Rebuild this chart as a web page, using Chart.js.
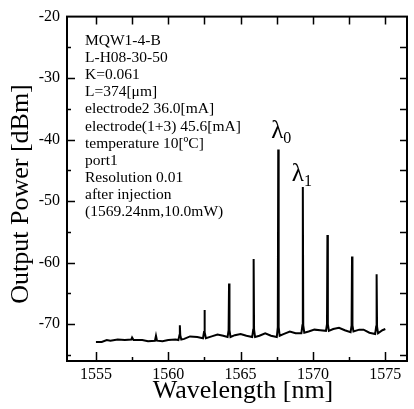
<!DOCTYPE html>
<html>
<head>
<meta charset="utf-8">
<script src="https://cdn.jsdelivr.net/npm/chart.js@4.4.0/dist/chart.umd.min.js"></script>
<style>
html, body { margin: 0; padding: 0; background: #fff; }
</style>
</head>
<body>
<canvas id="spectrum" width="414" height="409"></canvas>
<script>
// spectrum (nm, dBm)
const wavelength = [
  1555.0, 1555.4, 1555.75, 1556.0, 1556.5, 1557.0, 1557.45, 1557.5, 1557.6, 1558.2,
  1558.6, 1559.08, 1559.15, 1559.22, 1559.6, 1560.0, 1560.5, 1560.7, 1560.77, 1560.8,
  1560.83, 1560.9, 1561.1, 1561.5, 1562.0, 1562.4, 1562.47, 1562.5, 1562.53, 1562.6,
  1563.0, 1563.4, 1563.8, 1564.1, 1564.17, 1564.2, 1564.23, 1564.3, 1564.6, 1565.0,
  1565.4, 1565.8, 1565.87, 1565.9, 1565.93, 1566.0, 1566.3, 1566.7, 1567.1, 1567.5,
  1567.57, 1567.6, 1567.63, 1567.7, 1568.0, 1568.4, 1568.8, 1569.2, 1569.27, 1569.3,
  1569.33, 1569.4, 1569.7, 1570.1, 1570.5, 1570.9, 1570.97, 1571.0, 1571.03, 1571.1,
  1571.4, 1571.8, 1572.2, 1572.6, 1572.67, 1572.7, 1572.73, 1572.8, 1573.2, 1573.5,
  1573.9, 1574.3, 1574.37, 1574.4, 1574.43, 1574.5, 1574.8, 1575.0
];
const power = [
  -72.9, -72.9, -72.6, -72.7, -72.5, -72.6, -72.5, -72.2, -72.6, -72.6,
  -72.8, -72.7, -71.9, -72.7, -72.8, -72.6, -72.5, -72.6, -71.8, -70.2,
  -71.8, -72.5, -72.4, -72.0, -72.1, -72.3, -71.3, -67.7, -71.3, -72.3,
  -72.0, -71.7, -71.9, -72.1, -71.0, -63.4, -71.0, -72.1, -71.8, -71.6,
  -71.9, -72.1, -70.9, -59.4, -70.9, -72.1, -71.9, -71.5, -71.9, -72.1,
  -70.5, -41.6, -70.5, -71.9, -71.6, -71.2, -71.5, -71.5, -70.2, -47.7,
  -70.2, -71.4, -71.2, -70.9, -71.0, -71.1, -70.0, -55.5, -70.0, -71.1,
  -70.8, -70.6, -71.0, -71.3, -70.2, -59.0, -70.2, -71.2, -70.9, -70.9,
  -71.4, -71.6, -70.4, -61.9, -70.4, -71.5, -71.0, -70.8
];

const xMajor = [1555, 1560, 1565, 1570, 1575];
const xMinor = [1557.5, 1562.5, 1567.5, 1572.5];
const yMajor = [-20, -30, -40, -50, -60, -70];
const yMinor = [-25, -35, -45, -55, -65, -75];

const infoLines = [
  'MQW1-4-B',
  'L-H08-30-50',
  'K=0.061',
  'L=374[\u03bcm]',
  'electrode2 36.0[mA]',
  'electrode(1+3) 45.6[mA]',
  'temperature 10[\u00baC]',
  'port1',
  'Resolution 0.01',
  'after injection',
  '(1569.24nm,10.0mW)'
];
const modeNames = ['0', '1'];
const modePeaks = [1567.6, 1569.3];
const modeTops = [-41.6, -47.7];

const SERIF = '"Liberation Serif", "DejaVu Serif", serif';

// frame, inward ticks, titles and notes
const decorations = {
  id: 'decorations',
  afterDraw(chart) {
    const ctx = chart.ctx;
    const a = chart.chartArea;
    const xs = chart.scales.x, ys = chart.scales.y;
    ctx.save();
    ctx.strokeStyle = '#000';
    ctx.lineWidth = 2;
    ctx.strokeRect(a.left, a.top, a.right - a.left, a.bottom - a.top);

    ctx.lineWidth = 1.5;
    ctx.beginPath();
    xMajor.concat(xMinor).forEach(v => {
      const px = Math.round(xs.getPixelForValue(v)) + 0.5;
      const len = xMajor.includes(v) ? 9 : 4;
      ctx.moveTo(px, a.bottom); ctx.lineTo(px, a.bottom - len);
      ctx.moveTo(px, a.top); ctx.lineTo(px, a.top + 8);
    });
    yMajor.concat(yMinor).forEach(v => {
      const py = Math.round(ys.getPixelForValue(v)) + 0.5;
      if (py > a.bottom - 1 || py < a.top + 1) return;
      const len = yMajor.includes(v) ? 8 : 4;
      ctx.moveTo(a.left, py); ctx.lineTo(a.left + len, py);
      ctx.moveTo(a.right, py); ctx.lineTo(a.right - 7, py);
    });
    ctx.stroke();

    ctx.fillStyle = '#000';
    // axis titles
    ctx.font = '26px ' + SERIF;
    ctx.textAlign = 'center';
    ctx.textBaseline = 'middle';
    ctx.fillText('Wavelength [nm]', 243, 391);
    ctx.save();
    ctx.translate(21, 194);
    ctx.rotate(-Math.PI / 2);
    ctx.fillText('Output Power [dBm]', 0, 0);
    ctx.restore();

    // measurement notes
    ctx.font = '15.5px ' + SERIF;
    ctx.textAlign = 'left';
    ctx.textBaseline = 'alphabetic';
    infoLines.forEach((line, i) => {
      ctx.fillText(line, 85, 45 + i * 17.1);
    });

    // mode labels
    const offs = [[-7, -11], [-11, -6]];
    modePeaks.forEach((wl, i) => {
      const px = xs.getPixelForValue(wl) + offs[i][0];
      const py = ys.getPixelForValue(modeTops[i]) + offs[i][1];
      ctx.font = '25px ' + SERIF;
      ctx.fillText('\u03bb', px, py);
      const w = ctx.measureText('\u03bb').width;
      ctx.font = '16px ' + SERIF;
      ctx.fillText(modeNames[i], px + w, py + 5);
    });
    ctx.restore();
  }
};

new Chart(document.getElementById('spectrum'), {
  type: 'line',
  data: {
    datasets: [{
      data: wavelength.map((w, i) => ({ x: w, y: power[i] })),
      borderColor: '#000',
      borderWidth: 2,
      pointRadius: 0,
      tension: 0,
      fill: false
    }]
  },
  options: {
    responsive: false,
    animation: false,
    devicePixelRatio: 1,
    layout: { padding: { top: 14, right: 7, left: 0, bottom: 0 } },
    plugins: { legend: { display: false }, tooltip: { enabled: false } },
    scales: {
      x: {
        type: 'linear',
        min: 1553,
        max: 1576.5,
        grid: { display: false, drawTicks: false },
        border: { display: false },
        afterBuildTicks: s => { s.ticks = xMajor.map(v => ({ value: v })); },
        afterFit: s => { s.height = 48; },
        ticks: {
          color: '#000',
          padding: 4,
          maxRotation: 0,
          autoSkip: false,
          font: { family: SERIF, size: 16 },
          callback: v => String(v)
        }
      },
      y: {
        min: -76,
        max: -20,
        grid: { display: false, drawTicks: false },
        border: { display: false },
        afterBuildTicks: s => { s.ticks = yMajor.map(v => ({ value: v })); },
        afterFit: s => { s.width = 67; },
        ticks: {
          color: '#000',
          padding: 7,
          autoSkip: false,
          font: { family: SERIF, size: 16 },
          callback: v => String(v)
        }
      }
    }
  },
  plugins: [decorations]
});
</script>
</body>
</html>
